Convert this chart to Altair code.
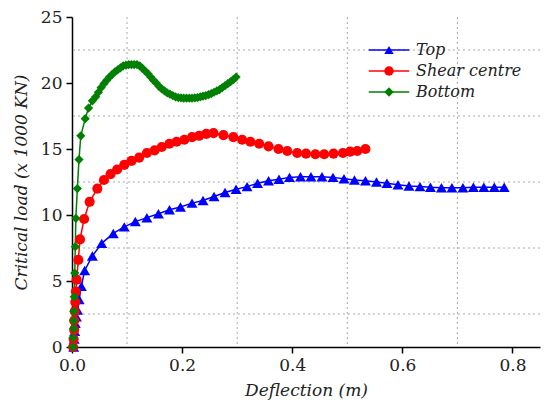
import altair as alt
import pandas as pd

# ---- data ----
top_x = [0.003, 0.004, 0.005, 0.006, 0.008, 0.010, 0.013, 0.017, 0.023, 0.037,
         0.054, 0.075, 0.095, 0.115, 0.136, 0.157, 0.177, 0.197, 0.218, 0.238,
         0.258, 0.278, 0.298, 0.318, 0.337, 0.357, 0.376, 0.395, 0.415, 0.434,
         0.454, 0.474, 0.494, 0.513, 0.533, 0.553, 0.572, 0.592, 0.612, 0.632,
         0.651, 0.671, 0.690, 0.710, 0.729, 0.748, 0.767, 0.785]
top_y = [0.0, 0.6, 1.2, 1.8, 2.3, 2.8, 3.6, 4.6, 5.8, 6.9,
         7.85, 8.6, 9.1, 9.5, 9.8, 10.1, 10.4, 10.6, 10.9, 11.1,
         11.4, 11.7, 11.95, 12.15, 12.4, 12.6, 12.7, 12.85, 12.9, 12.9,
         12.9, 12.85, 12.75, 12.65, 12.6, 12.5, 12.4, 12.3, 12.2, 12.15,
         12.1, 12.07, 12.07, 12.07, 12.1, 12.1, 12.1, 12.1]

shear_x = [0.002, 0.003, 0.004, 0.004, 0.005, 0.006, 0.007, 0.0085, 0.0115, 0.0145,
           0.022, 0.032, 0.046, 0.058, 0.070, 0.082, 0.095, 0.108, 0.122, 0.136,
           0.150, 0.163, 0.177, 0.190, 0.204, 0.218, 0.231, 0.244, 0.257, 0.275,
           0.293, 0.309, 0.324, 0.340, 0.357, 0.375, 0.391, 0.409, 0.425, 0.442,
           0.458, 0.475, 0.492, 0.505, 0.518, 0.533]
shear_y = [0.0, 0.6, 1.3, 2.0, 2.7, 3.4, 4.2, 5.1, 6.6, 8.15,
           9.7, 11.0, 12.0, 12.65, 13.1, 13.45, 13.8, 14.1, 14.35, 14.7,
           14.9, 15.15, 15.4, 15.55, 15.7, 15.9, 16.0, 16.15, 16.2, 16.05,
           15.9, 15.7, 15.55, 15.4, 15.2, 15.0, 14.85, 14.7, 14.65, 14.6,
           14.6, 14.65, 14.7, 14.8, 14.85, 15.0]

bottom_x = [0.002, 0.002, 0.003, 0.003, 0.0035, 0.004, 0.005, 0.006, 0.007, 0.0097,
            0.0127, 0.016, 0.024, 0.030, 0.037, 0.043, 0.048, 0.053, 0.058, 0.063,
            0.068, 0.073, 0.078, 0.083, 0.088, 0.093, 0.098, 0.103, 0.108, 0.113,
            0.118, 0.123, 0.128, 0.133, 0.138, 0.143, 0.148, 0.153, 0.158, 0.163,
            0.168, 0.173, 0.178, 0.183, 0.188, 0.193, 0.198, 0.203, 0.208, 0.213,
            0.218, 0.223, 0.228, 0.233, 0.238, 0.243, 0.248, 0.253, 0.258, 0.263,
            0.268, 0.273, 0.278, 0.283, 0.288, 0.293, 0.298]
bottom_y = [0.0, 0.7, 1.4, 2.0, 2.7, 3.8, 5.6, 7.6, 9.75, 12.0,
            14.2, 16.0, 17.3, 18.1, 18.65, 18.95, 19.3, 19.65, 19.95, 20.2,
            20.45, 20.65, 20.85, 21.0, 21.15, 21.3, 21.35, 21.4, 21.4, 21.4,
            21.4, 21.3, 21.1, 20.9, 20.7, 20.45, 20.2, 20.0, 19.75, 19.55,
            19.4, 19.25, 19.15, 19.05, 18.95, 18.9, 18.87, 18.85, 18.85, 18.85,
            18.85, 18.87, 18.9, 18.95, 19.0, 19.05, 19.12, 19.2, 19.3, 19.4,
            19.5, 19.65, 19.8, 19.95, 20.1, 20.25, 20.45]

series_names = ["Top", "Shear centre", "Bottom"]
series_colors = ["#0000ff", "#ff0000", "#008000"]
series_shapes = ["triangle-up", "circle", "diamond"]
series_sizes = [120, 85, 170]

x_ticks = [0.0, 0.2, 0.4, 0.6, 0.8]
y_ticks = [0, 5, 10, 15, 20, 25]
grid_x = [0.1, 0.3, 0.5, 0.7]
grid_y = [2.5, 7.5, 12.5, 17.5, 22.5]

rows = []
for name, xs, ys in zip(series_names, [top_x, shear_x, bottom_x], [top_y, shear_y, bottom_y]):
    for i, (a, b) in enumerate(zip(xs, ys)):
        rows.append({"series": name, "idx": i, "x": a, "y": b})
df = pd.DataFrame(rows)

FONT = "DejaVu Serif"
FS = 17
LFS = 16
xscale = alt.Scale(domain=[0, 0.85], nice=False, zero=False)
yscale = alt.Scale(domain=[0, 25], nice=False)
cscale = alt.Scale(domain=series_names, range=series_colors)
sscale = alt.Scale(domain=series_names, range=series_shapes)

LEGX, LEGY = 309, 25

grid_style = dict(color="#a8a8a8", strokeDash=[2, 3], strokeWidth=1)
gx = alt.Chart(pd.DataFrame({"g": grid_x})).mark_rule(**grid_style).encode(
    x=alt.X("g:Q", scale=xscale))
gy = alt.Chart(pd.DataFrame({"g": grid_y})).mark_rule(**grid_style).encode(
    y=alt.Y("g:Q", scale=yscale))

line_legend = alt.Legend(orient="none", legendX=LEGX, legendY=LEGY, title=None,
                         symbolType="M-4.5,0H4.5", symbolSize=81, symbolStrokeWidth=1.5,
                         labelOffset=19, labelOpacity=0, rowPadding=5,
                         labelFont=FONT, labelFontSize=LFS, labelFontStyle="italic")
pt_legend = alt.Legend(orient="none", legendX=LEGX, legendY=LEGY, title=None,
                       symbolSize=90, labelOffset=19, rowPadding=5,
                       labelFont=FONT, labelFontSize=LFS, labelFontStyle="italic",
                       labelColor="#222222")

xaxis = alt.Axis(values=x_ticks, format=".1f", title="Deflection (m)", grid=False,
                 labelFont=FONT, titleFont=FONT)
yaxis = alt.Axis(values=y_ticks, format="d", title="Critical load (x 1000 KN)", grid=False,
                 labelFont=FONT, titleFont=FONT)

lines = alt.Chart(df).mark_line(strokeWidth=1.5).encode(
    x=alt.X("x:Q", scale=xscale, axis=xaxis),
    y=alt.Y("y:Q", scale=yscale, axis=yaxis),
    color=alt.Color("series:N", scale=cscale, legend=line_legend),
    order=alt.Order("idx:Q"),
    detail="series:N",
)
points = alt.Chart(df).mark_point(filled=True, opacity=1).encode(
    x=alt.X("x:Q", scale=xscale),
    y=alt.Y("y:Q", scale=yscale),
    color=alt.Color("series:N", scale=cscale, legend=pt_legend),
    shape=alt.Shape("series:N", scale=sscale, legend=pt_legend),
    size=alt.Size("series:N", scale=alt.Scale(domain=series_names, range=series_sizes), legend=None),
)

chart = alt.layer(gx, gy, lines, points).resolve_legend(
    color="independent", shape="independent"
).properties(
    width=468, height=330,
    autosize=alt.AutoSizeParams(type="none"),
    padding={"left": 72, "top": 17, "right": 7, "bottom": 58},
    background="white",
).configure_view(stroke=None).configure_axis(
    domainColor="#000000", domainWidth=1.5, tickColor="#000000", tickWidth=1.5,
    tickSize=6, labelFontSize=FS, labelColor="#222222",
    labelPadding=4, titleFontSize=FS, titleFontStyle="italic",
    titleFontWeight="normal", titleColor="#222222",
).configure_axisX(titlePadding=9, labelFlush=False).configure_axisY(titlePadding=10)

chart.save("out.html", embed_options={"renderer": "svg", "actions": False})
